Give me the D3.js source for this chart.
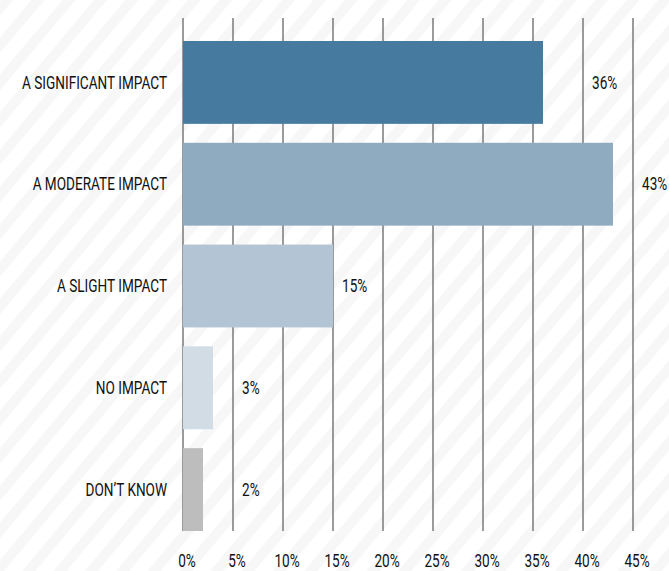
<!DOCTYPE html>
<html>
<head>
<meta charset="utf-8">
<script src="https://cdn.jsdelivr.net/npm/d3@7"></script>
<style>
  html, body { margin: 0; padding: 0; background: #fff; }
  svg { display: block; }
  text { font-family: Roboto, "Noto Sans", sans-serif; fill: #111; font-weight: 400; }
</style>
</head>
<body>
<svg id="chart" width="669" height="571"></svg>
<script>
// Survey responses: share of respondents per impact level
const categories = ["A SIGNIFICANT IMPACT", "A MODERATE IMPACT", "A SLIGHT IMPACT", "NO IMPACT", "DON\u2019T KNOW"];
const values = [36, 43, 15, 3, 2];
const barColors = ["#467b9f", "#8eabc0", "#b3c4d4", "#d2dce5", "#bdbdbd"];
const tickValues = [0, 5, 10, 15, 20, 25, 30, 35, 40, 45];
const tickLabels = ["0%", "5%", "10%", "15%", "20%", "25%", "30%", "35%", "40%", "45%"];

const svg = d3.select("#chart");
const W = 669, H = 571;
const squeeze = 0.755; // condensed lettering

// striped backdrop
const defs = svg.append("defs");
const pat = defs.append("pattern")
  .attr("id", "stripes")
  .attr("patternUnits", "userSpaceOnUse")
  .attr("width", 24).attr("height", 24)
  .attr("patternTransform", "rotate(40)");
pat.append("rect").attr("width", 24).attr("height", 24).attr("fill", "#ffffff");
pat.append("rect").attr("width", 10).attr("height", 24).attr("fill", "#f7f7f7");
svg.append("rect").attr("width", W).attr("height", H).attr("fill", "url(#stripes)");

const x = d3.scaleLinear().domain([0, 45]).range([183, 633]);
const y = d3.scaleBand().domain(categories).range([41, 531]).paddingInner(0.186).paddingOuter(0);
const gridTop = 18, gridBottom = 531;

// vertical gridlines
svg.append("g").selectAll("line").data(tickValues).join("line")
  .attr("x1", d => x(d)).attr("x2", d => x(d))
  .attr("y1", gridTop).attr("y2", gridBottom)
  .attr("stroke", "#7a7a7a").attr("stroke-width", 1.5);

// bars
svg.append("g").selectAll("rect").data(values).join("rect")
  .attr("x", x(0))
  .attr("y", (d, i) => y(categories[i]))
  .attr("width", d => x(d) - x(0))
  .attr("height", y.bandwidth())
  .attr("fill", (d, i) => barColors[i]);

// category labels
svg.append("g").selectAll("text").data(categories).join("text")
  .attr("transform", d => `translate(167,${y(d) + y.bandwidth() / 2}) scale(${squeeze},1)`)
  .attr("text-anchor", "end")
  .attr("dominant-baseline", "central")
  .attr("font-size", 18)
  .text(d => d);

// value labels, set just past the next gridline
svg.append("g").selectAll("text").data(values).join("text")
  .attr("transform", (d, i) => `translate(${x(Math.ceil(d / 5) * 5) + 9},${y(categories[i]) + y.bandwidth() / 2}) scale(${squeeze},1)`)
  .attr("text-anchor", "start")
  .attr("dominant-baseline", "central")
  .attr("font-size", 18)
  .text(d => d + "%");

// axis tick labels
svg.append("g").selectAll("text").data(tickValues).join("text")
  .attr("transform", (d, i) => `translate(${x(d) + 4},567) scale(${squeeze},1)`)
  .attr("text-anchor", "middle")
  .attr("font-size", 18)
  .text((d, i) => tickLabels[i]);
</script>
</body>
</html>
